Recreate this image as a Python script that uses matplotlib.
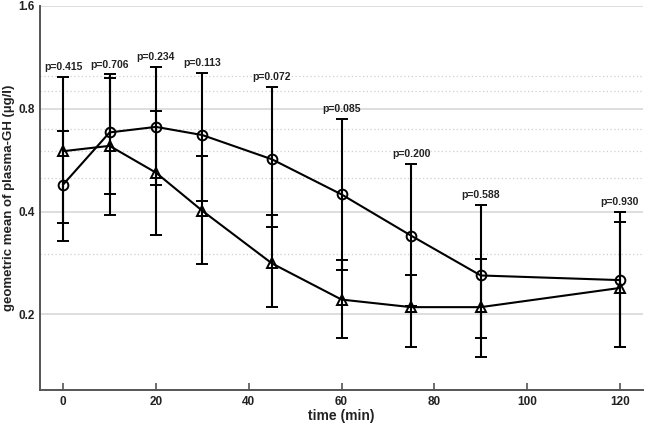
import matplotlib.pyplot as plt
import numpy as np

plt.switch_backend('Agg')
plt.rcParams['font.family'] = ['Liberation Sans', 'DejaVu Sans']

# time points (min)
time = [0, 10, 20, 30, 45, 60, 75, 90, 120]

# circle series: geometric mean with lower/upper error limits (ug/l)
circle_mean = [0.480, 0.682, 0.708, 0.670, 0.569, 0.449, 0.340, 0.260, 0.252]
circle_hi = [0.689, 1.008, 1.062, 1.020, 0.928, 0.749, 0.551, 0.419, 0.399]
circle_lo = [0.329, 0.450, 0.480, 0.429, 0.361, 0.269, 0.211, 0.170, 0.160]

# triangle series
tri_mean = [0.601, 0.623, 0.520, 0.402, 0.282, 0.221, 0.210, 0.210, 0.239]
tri_hi = [0.992, 0.985, 0.787, 0.581, 0.390, 0.289, 0.260, 0.290, 0.373]
tri_lo = [0.370, 0.390, 0.341, 0.280, 0.210, 0.170, 0.160, 0.150, 0.160]

p_values = ['0.415', '0.706', '0.234', '0.113', '0.072', '0.085', '0.200', '0.588', '0.930']

y_ticks = [0.2, 0.4, 0.8, 1.6]
y_minor = [0.3, 0.5, 0.6, 0.7, 0.9, 1.0]
x_ticks = [0, 20, 40, 60, 80, 100, 120]

fig = plt.figure(figsize=(6.45, 4.25), dpi=100)
ax = fig.add_axes([0.062, 0.082, 0.935, 0.904])

ax.set_yscale('log', base=2)
ax.set_ylim(0.12, 1.6)
ax.set_xlim(-5, 125)

# grid
ax.set_yticks(y_ticks)
ax.set_yticklabels([str(v) for v in y_ticks])
ax.set_yticks(y_minor, minor=True)
ax.set_yticklabels([], minor=True)
ax.grid(axis='y', which='major', color='#d4d4d4', linewidth=1.1, linestyle='-')
ax.grid(axis='y', which='minor', color='#cfcfcf', linewidth=0.9, linestyle=(0, (1, 2)))
ax.set_axisbelow(True)

for mean, lo, hi, marker in [(circle_mean, circle_lo, circle_hi, 'o'),
                             (tri_mean, tri_lo, tri_hi, '^')]:
    mean = np.array(mean)
    yerr = [mean - np.array(lo), np.array(hi) - mean]
    ax.errorbar(time, mean, yerr=yerr, color='black', marker=marker,
                markersize=7, mfc='none', mec='black', mew=1.4,
                linewidth=1.5, elinewidth=1.5, capsize=4.5, capthick=1.5)

# p-value labels above the highest cap
for t, p, ch, th in zip(time, p_values, circle_hi, tri_hi):
    ax.annotate('p=' + p, (t, max(ch, th)), xytext=(0, 3.5),
                textcoords='offset points', ha='center', va='bottom',
                fontsize=7.5, fontweight='bold', color='#222222')

ax.set_xticks(x_ticks)
ax.tick_params(axis='x', direction='in', length=5, width=1.2, color='#555555',
               labelsize=8.5, pad=4)
ax.tick_params(axis='y', which='both', length=0, labelsize=8.5, pad=4)
for lab in ax.get_xticklabels() + ax.get_yticklabels():
    lab.set_fontweight('bold')
    lab.set_color('#222222')

for side in ['top', 'right']:
    ax.spines[side].set_visible(False)
for side in ['left', 'bottom']:
    ax.spines[side].set_color('#555555')
    ax.spines[side].set_linewidth(1.4)

ax.set_xlabel('time (min)', fontsize=10, fontweight='bold', color='#222222', labelpad=1)
ax.set_ylabel('geometric mean of plasma-GH (µg/l)', fontsize=9.5, fontweight='bold',
              color='#222222', labelpad=2)

fig.savefig('out.png', dpi=100)
